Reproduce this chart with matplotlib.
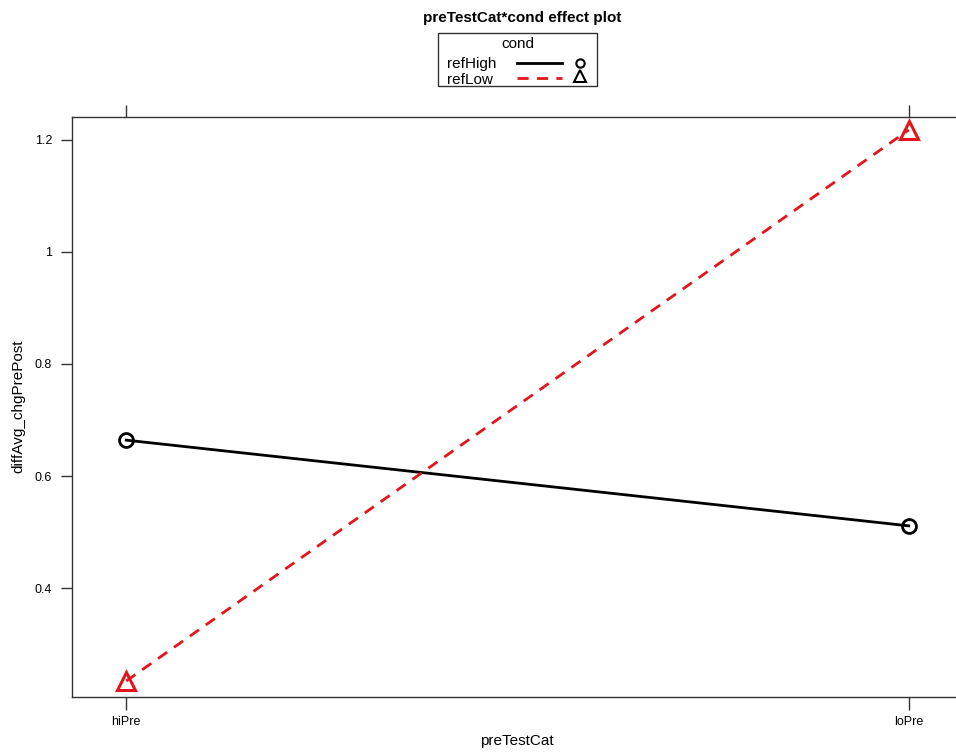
import matplotlib
matplotlib.use("Agg")
import matplotlib.pyplot as plt
from matplotlib.lines import Line2D
from matplotlib.patches import Rectangle

plt.rcParams['font.family'] = ['Liberation Sans', 'DejaVu Sans']

categories = ["hiPre", "loPre"]
series_names = ["refHigh", "refLow"]
refHigh = [0.664, 0.511]
refLow = [0.234, 1.218]
yticks = [0.4, 0.6, 0.8, 1.0, 1.2]
ytick_labels = ["0.4", "0.6", "0.8", "1", "1.2"]

W, H = 956, 756
fig = plt.figure(figsize=(W / 100, H / 100), dpi=100)

def fx(px):
    return px / W

def fy(py):
    return 1 - py / H

left, right, top, bottom = 71.5, 963.5, 116.7, 696.7
ax = fig.add_axes([fx(left), fy(bottom), fx(right) - fx(left), fy(top) - fy(bottom)])

x = [1, 2]
ax.plot(x, refHigh, color="black", lw=2, marker="o", ms=10, mfc="none", mew=2, zorder=3)
ax.plot(x, refLow, color="#e3151a", lw=2, ls=(0, (4, 3)), marker="^", ms=13, mfc="none", mew=2.2, zorder=3)

ax.set_xlim(0.93, 2.07)
ax.set_ylim(0.2059, 1.2416)
ax.set_xticks(x)
ax.set_xticklabels(categories)
ax.set_yticks(yticks)
ax.set_yticklabels(ytick_labels)

for s in ["left", "top", "bottom", "right"]:
    ax.spines[s].set_linewidth(1.0)
    ax.spines[s].set_color("#333333")

ax.tick_params(axis="x", which="both", direction="out", length=9, width=1, top=True, bottom=True,
               labelsize=9, pad=5, colors="#333333", labelcolor="black")
ax.tick_params(axis="y", which="both", direction="out", length=8, width=1, left=True, right=False,
               labelsize=9, pad=6, colors="#333333", labelcolor="black")

fig.text(fx(517), fy(741), "preTestCat", ha="center", va="center", fontsize=11)
fig.text(fx(18), fy(406.7), "diffAvg_chgPrePost", ha="center", va="center", fontsize=11, rotation=90)

fig.text(fx(522), fy(18), "preTestCat*cond effect plot", ha="center", va="center",
         fontsize=11, fontweight="bold")

# legend box
bx0, bx1, by0, by1 = 438, 597, 33, 86
fig.patches.append(Rectangle((fx(bx0), fy(by1)), fx(bx1) - fx(bx0), fy(by0) - fy(by1),
                             transform=fig.transFigure, fill=False, ec="#333333", lw=1.0))
fig.text(fx(518), fy(44), "cond", ha="center", va="center", fontsize=11)
fig.text(fx(447), fy(64), series_names[0], ha="left", va="center", fontsize=11)
fig.text(fx(447), fy(80), series_names[1], ha="left", va="center", fontsize=11)
fig.add_artist(Line2D([fx(517), fx(562)], [fy(63), fy(63)], color="black", lw=2, transform=fig.transFigure))
fig.add_artist(Line2D([fx(517), fx(562)], [fy(78), fy(78)], color="#e3151a", lw=2, ls=(0, (4, 3)),
                      transform=fig.transFigure))
fig.add_artist(Line2D([fx(580)], [fy(63)], marker="o", ms=6, mfc="none", mec="black", mew=1.5,
                      transform=fig.transFigure))
fig.add_artist(Line2D([fx(580)], [fy(76)], marker="^", ms=8, mfc="none", mec="black", mew=1.5,
                      transform=fig.transFigure))

fig.savefig("out.png", dpi=100)
